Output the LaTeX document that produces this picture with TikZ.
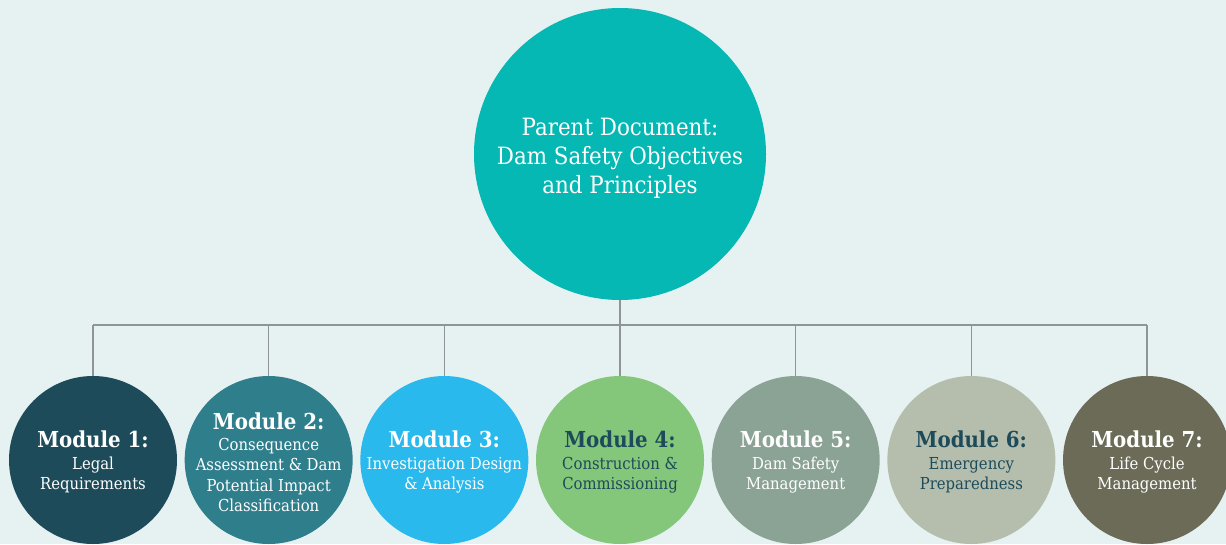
\documentclass[tikz,border=0pt]{standalone}
\usepackage{fontspec}
\setmainfont{DejaVu Serif}
\newfontfamily\condfont{DejaVu Serif Condensed}
\definecolor{bg}{HTML}{E6F2F2}
\definecolor{topc}{HTML}{05B8B3}
\definecolor{mA}{HTML}{1D4B5A}
\definecolor{mB}{HTML}{2F7E8C}
\definecolor{mC}{HTML}{2AB9EC}
\definecolor{mD}{HTML}{84C67A}
\definecolor{mE}{HTML}{8BA395}
\definecolor{mF}{HTML}{B5BEAD}
\definecolor{mG}{HTML}{6B6B57}
\definecolor{linec}{HTML}{8F9597}
\definecolor{darktxt}{HTML}{1D4B5A}
\tikzset{
  modcircle/.style={circle, minimum size=168pt, inner sep=0pt},
  modtext/.style={inner sep=0pt, align=center, font=\condfont\fontsize{16.5}{20.3}\selectfont},
  topcircle/.style={circle, minimum size=292pt, inner sep=0pt, fill=topc},
  toptext/.style={inner sep=0pt, align=center, text=white, font=\condfont\fontsize{23.8}{29}\selectfont},
  conn/.style={draw=linec, line width=1.4pt},
}
\newcommand{\modtitle}[1]{{\fontsize{22}{26}\selectfont\bfseries #1}\\[1pt]}
\begin{document}
\begin{tikzpicture}[x=1pt,y=-1pt]
\fill[bg] (0,0) rectangle (1226,544);
\useasboundingbox (0,0) rectangle (1226,544);
\node[topcircle] (top) at (620,154) {};
\node[toptext] (toplabel) at (620,158) {Parent Document:\\Dam Safety Objectives\\and Principles};
\coordinate (hub) at (620,325);
\foreach \i/\col/\tc/\body in {
  1/mA/white/{Legal\\Requirements},
  2/mB/white/{Consequence\\Assessment \& Dam\\Potential Impact\\Classification},
  3/mC/white/{Investigation Design\\\& Analysis},
  4/mD/darktxt/{Construction \&\\Commissioning},
  5/mE/white/{Dam Safety\\Management},
  6/mF/darktxt/{Emergency\\Preparedness},
  7/mG/white/{Life Cycle\\Management}}{
  \pgfmathsetmacro{\cx}{93+(\i-1)*175.67}
  \node[modcircle, fill=\col] (m\i) at (\cx,460) {};
  \node[modtext, text=\tc] (t\i) at (\cx,462) {\modtitle{Module \i:}\body};
  \coordinate (j\i) at (\cx,325);
}
\draw[conn] (top.south) -- (hub);
\draw[conn] (j1) -- (j7);
\foreach \i in {1,...,7}{\draw[conn] (j\i) -- (m\i.north);}
\end{tikzpicture}
\end{document}
